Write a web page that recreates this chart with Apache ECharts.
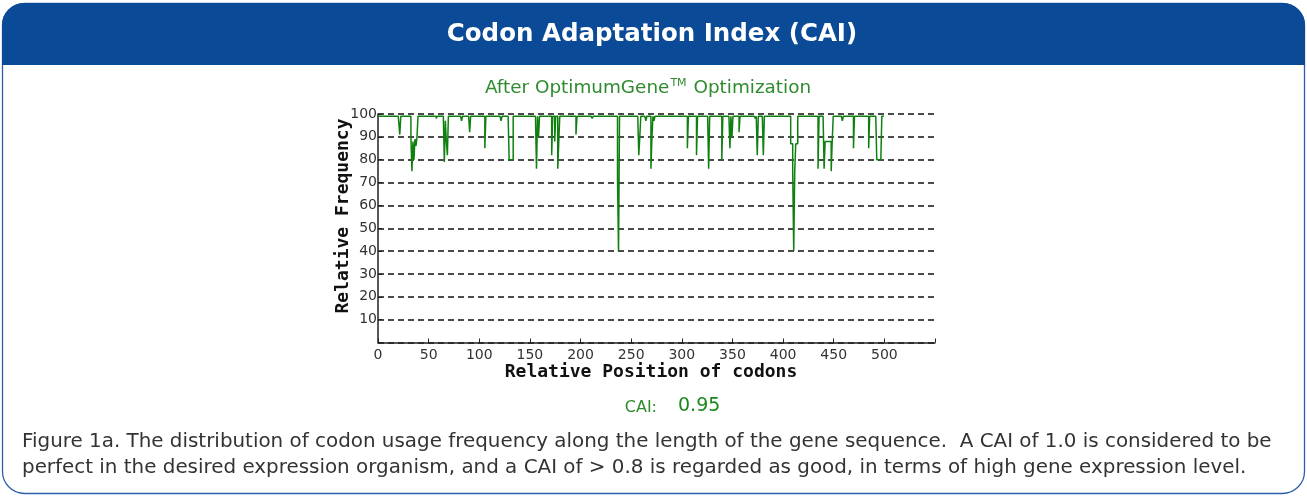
<!DOCTYPE html>
<html>
<head>
<meta charset="utf-8">
<title>Codon Adaptation Index (CAI)</title>
<script src="https://cdn.jsdelivr.net/npm/echarts@6/dist/echarts.min.js"></script>
<style>
html, body { margin: 0; padding: 0; background: #fff; }
#chart { width: 1307px; height: 496px; }
</style>
</head>
<body>
<div id="chart"></div>
<script>
// relative frequency of each codon
const baselineFrequency = 99
const lastCodon = 500
const dipCodons = [
    22, 33, 34, 35, 36, 37, 38, 39, 58, 66, 67, 68, 69, 83, 91, 106, 122,
    130, 131, 132, 133, 157, 159, 172, 175, 178, 179, 196, 212, 237, 238,
    258, 259, 265, 270, 271, 273, 306, 315, 327, 340, 348, 350, 357, 373,
    375, 381, 408, 409, 410, 411, 412, 413, 414, 435, 441, 442, 443, 444,
    445, 446, 447, 448, 449, 459, 470, 485, 493, 494, 495, 496, 497
]
const dipValues = [
    91, 90, 75, 88, 80, 89, 86, 90, 98, 79, 97, 88, 82, 97, 92, 85, 97,
    80, 80, 80, 80, 76, 90, 82, 88, 76, 88, 91, 98, 72, 40,
    82, 90, 97, 76, 90, 97, 85, 82, 76, 80, 85, 90, 92, 98,
    82, 82, 87, 87, 75, 40, 75, 87, 87, 76, 76, 88, 88, 88,
    88, 88, 88, 75, 88, 97, 85, 85, 80, 80, 80, 80, 80
]
const xTicks = [0, 50, 100, 150, 200, 250, 300, 350, 400, 450, 500]
const yTicks = [10, 20, 30, 40, 50, 60, 70, 80, 90, 100]
const caiValue = '0.95'

const green = '#0f800f'
const textGreen = '#2e8b2e'
const blue = '#0a4a97'

const dipMap = {}
dipCodons.forEach((c, i) => { dipMap[c] = dipValues[i] })
const lineData = []
for (let c = 0; c <= lastCodon; c++) {
    lineData.push([c, dipMap[c] !== undefined ? dipMap[c] : baselineFrequency])
}

const chart = echarts.init(document.getElementById('chart'))

const nameFont = 'bold 18px "DejaVu Sans Mono"'

chart.setOption({
    backgroundColor: '#fff',
    animation: false,
    grid: { left: 378, right: 372, top: 114, bottom: 153.5 },
    xAxis: {
        type: 'value',
        min: 0,
        max: 550,
        interval: 50,
        axisLine: { lineStyle: { color: '#222', width: 1.5 } },
        axisTick: { inside: true, length: 4, lineStyle: { color: '#222' } },
        axisLabel: {
            margin: 6,
            fontFamily: 'DejaVu Sans',
            fontSize: 14,
            color: '#333',
            formatter: v => xTicks.indexOf(v) >= 0 ? String(v) : ''
        },
        splitLine: { show: false }
    },
    yAxis: {
        type: 'value',
        min: 0,
        max: 100,
        interval: 10,
        axisLine: { show: true, lineStyle: { color: '#222', width: 1.5 } },
        axisTick: { show: true, inside: true, length: 4, lineStyle: { color: '#222' } },
        axisLabel: {
            margin: 1,
            fontFamily: 'DejaVu Sans',
            fontSize: 14,
            color: '#333',
            formatter: v => yTicks.indexOf(v) >= 0 ? String(v) : ''
        },
        splitLine: { lineStyle: { color: '#111', type: [6, 4], width: 1.5 } }
    },
    series: [{
        type: 'line',
        data: lineData,
        step: 'middle',
        symbol: 'none',
        sampling: null,
        lineStyle: { color: green, width: 1.5 },
        z: 3
    }],
    graphic: [
        {
            type: 'rect',
            shape: { x: 2.5, y: 3.5, width: 1302, height: 490, r: 22 },
            style: { fill: 'none', stroke: '#2d5fa8', lineWidth: 1.3 },
            silent: true
        },
        {
            type: 'rect',
            shape: { x: 2, y: 3, width: 1303, height: 62, r: [22, 22, 0, 0] },
            style: { fill: blue },
            silent: true
        },
        {
            type: 'text',
            x: 652, y: 35,
            style: {
                text: 'Codon Adaptation Index (CAI)',
                fill: '#fff',
                font: 'bold 24.5px "DejaVu Sans"',
                textAlign: 'center',
                textVerticalAlign: 'middle'
            }
        },
        {
            type: 'text',
            x: 648, y: 88,
            style: {
                text: 'After OptimumGene{sup|TM} Optimization',
                fill: textGreen,
                font: '18.4px "DejaVu Sans"',
                textAlign: 'center',
                textVerticalAlign: 'middle',
                rich: {
                    sup: { fontSize: 11, fill: textGreen, fontFamily: 'DejaVu Sans', padding: [0, 1, 9, 1] }
                }
            }
        },
        {
            type: 'text',
            x: 343, y: 216,
            rotation: Math.PI / 2,
            style: {
                text: 'Relative Frequency',
                fill: '#111',
                font: nameFont,
                textAlign: 'center',
                textVerticalAlign: 'middle'
            }
        },
        {
            type: 'text',
            x: 651, y: 372,
            style: {
                text: 'Relative Position of codons',
                fill: '#111',
                font: nameFont,
                textAlign: 'center',
                textVerticalAlign: 'middle'
            }
        },
        {
            type: 'text',
            x: 657, y: 408,
            style: {
                text: 'CAI:',
                fill: textGreen,
                font: '16px "DejaVu Sans"',
                textAlign: 'right',
                textVerticalAlign: 'middle'
            }
        },
        {
            type: 'text',
            x: 678, y: 406,
            style: {
                text: caiValue,
                fill: '#1b8a1b',
                font: '19px "DejaVu Sans"',
                textAlign: 'left',
                textVerticalAlign: 'middle'
            }
        },
        {
            type: 'text',
            x: 22, y: 442,
            style: {
                text: 'Figure 1a. The distribution of codon usage frequency along the length of the gene sequence.  A CAI of 1.0 is considered to be',
                fill: '#333',
                font: '19.9px "DejaVu Sans"',
                textAlign: 'left',
                textVerticalAlign: 'middle'
            }
        },
        {
            type: 'text',
            x: 22, y: 468,
            style: {
                text: 'perfect in the desired expression organism, and a CAI of > 0.8 is regarded as good, in terms of high gene expression level.',
                fill: '#333',
                font: '19.9px "DejaVu Sans"',
                textAlign: 'left',
                textVerticalAlign: 'middle'
            }
        }
    ]
})

window.addEventListener('resize', () => chart.resize())
</script>
</body>
</html>
